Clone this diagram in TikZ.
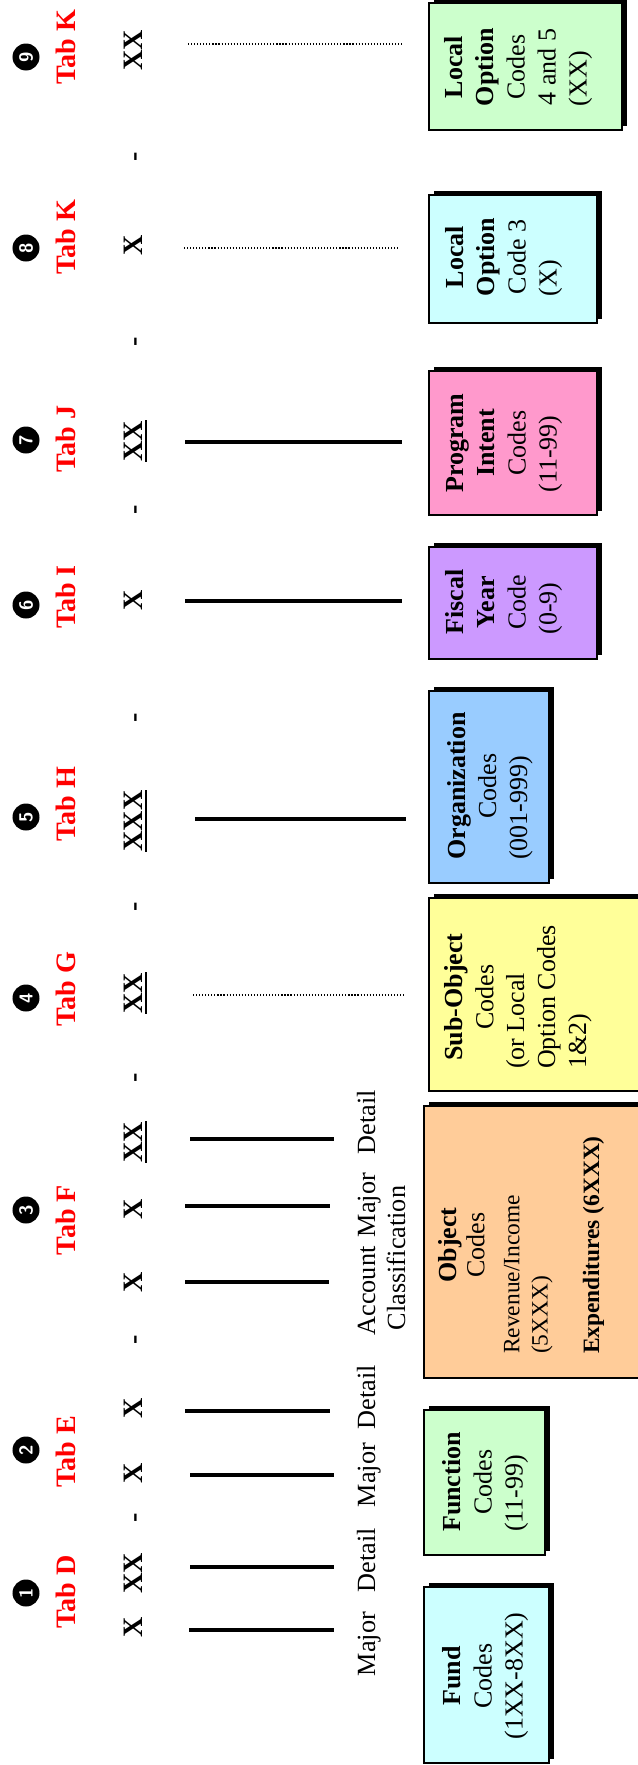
\documentclass[tikz,border=0pt]{standalone}
\usepackage{fontspec}
\setmainfont{Liberation Serif}
\usepackage{tikz}

\definecolor{fundcyan}{HTML}{CCFFFF}
\definecolor{funcgreen}{HTML}{CCFFCC}
\definecolor{objorange}{HTML}{FFCC99}
\definecolor{subyellow}{HTML}{FFFF99}
\definecolor{orgblue}{HTML}{99CCFF}
\definecolor{fiscpurple}{HTML}{CC99FF}
\definecolor{progpink}{HTML}{FF99CC}
\definecolor{tabred}{HTML}{FF0000}

\newcommand{\leftrow}[1]{\multicolumn{1}{@{}l@{}}{#1}}

\tikzset{
  tabnum/.style={rotate=90, circle, fill=black, text=white, inner sep=0pt,
    minimum size=4.05mm, font=\fontsize{8}{9}\selectfont\sffamily\bfseries},
  tablabel/.style={rotate=90, anchor=base, inner sep=0pt, text=tabred,
    font=\fontsize{12}{14}\selectfont\bfseries},
  codechar/.style={rotate=90, anchor=base, inner sep=1.5pt,
    font=\fontsize{12}{14}\selectfont\bfseries},
  ulrule/.style={line width=1.1pt, shorten <=1.5pt, shorten >=1.5pt},
  fieldlabel/.style={rotate=90, anchor=base, inner sep=0pt,
    font=\fontsize{11.2}{13}\selectfont},
  boxtext/.style={rotate=90, inner sep=0pt, font=\fontsize{11.1}{13.2}\selectfont},
  codeline/.style={line width=1.5pt},
  optline/.style={line width=0.5pt, dash pattern=on 0.5pt off 0.8pt},
  codebox/.style={draw=black, line width=0.7pt,
    preaction={fill=black, transform canvas={xshift=0.75mm, yshift=0.6mm}}},
}

\begin{document}
\begin{tikzpicture}[x=0.15mm, y=0.15mm]
  \useasboundingbox (0,0) rectangle (638,-1765);
  \clip (0,0) rectangle (638,-1765);

  % tab numbers and labels
  \foreach \y/\c/\t [count=\i] in {1593/1592/D, 1450/1452/E, 1210/1220/F,
      998/989/G, 817/804/H, 605/597/I, 440/439/J, 248/237/K, 57/47/K} {
    \node[tabnum] (num\i) at (26,-\y) {\i};
    \node[tablabel] (tab\i) at (75,-\c) {Tab \t};
  }

  % account code characters
  \foreach \y/\t [count=\i] in {1627/X, 1573/XX, 1518/-, 1473/X, 1408/X,
      1340/-, 1282/X, 1209/X, 1142/XX, 1078/-, 993/XX, 907/-, 821/XXX,
      718/-, 600/X, 510/-, 441/XX, 342/-, 245/X, 157/-, 50/XX}
    \node[codechar] (code\i) at (142,-\y) {\t};
  \foreach \n in {9,11,13,17}
    \draw[ulrule] (code\n.south west) -- (code\n.south east);

  % lines under the characters
  \foreach \y/\a/\b in {1630/189/334, 1567/190/334, 1475/190/334, 1411/185/330,
      1282/185/329, 1206/185/330, 1139/190/334, 819/195/406, 601/185/402, 442/185/402}
    \draw[codeline] (\a,-\y) -- (\b,-\y);
  \foreach \y/\a/\b in {995/193/404, 248/184/399, 44/188/403}
    \draw[optline] (\a,-\y) -- (\b,-\y);

  % field names
  \node[fieldlabel] (lab1) at (375,-1644) {Major};
  \node[fieldlabel] (lab2) at (375,-1560) {Detail};
  \node[fieldlabel] (lab3) at (375,-1475) {Major};
  \node[fieldlabel] (lab4) at (375,-1397) {Detail};
  \node[fieldlabel] (lab5) at (375,-1291) {Account};
  \node[fieldlabel] (lab6) at (405,-1258) {Classification};
  \node[fieldlabel] (lab7) at (375,-1205) {Major};
  \node[fieldlabel] (lab8) at (375,-1122) {Detail};

  % code boxes
  \draw[codebox, fill=fundcyan] (424,-1587) rectangle (549,-1763);
  \node[boxtext] (fund) at (485.5,-1676)
    {\begin{tabular}{@{}c@{}}\textbf{Fund}\\Codes\\\leftrow{(1XX-8XX)}\end{tabular}};

  \draw[codebox, fill=funcgreen] (424,-1410) rectangle (545,-1555);
  \node[boxtext] (function) at (485.5,-1482)
    {\begin{tabular}{@{}c@{}}\textbf{Function}\\Codes\\\leftrow{(11-99)}\end{tabular}};

  \draw[codebox, fill=objorange] (424,-1106) rectangle (700,-1378);
  \node[boxtext, font=\fontsize{11.1}{12}\selectfont] (object) at (522,-1245)
    {\begin{tabular}{@{}c@{}}\textbf{Object}\\Codes\\[3pt]
     \leftrow{\fontsize{10}{12}\selectfont Revenue/Income}\\
     \leftrow{\fontsize{10}{12}\selectfont (5XXX)}\\[10pt]
     \leftrow{\fontsize{10}{12}\selectfont\bfseries Expenditures (6XXX)}\end{tabular}};

  \draw[codebox, fill=subyellow] (429,-898) rectangle (700,-1091);
  \node[boxtext] (subobject) at (518,-997)
    {\begin{tabular}{@{}c@{}}\textbf{Sub-Object}\\Codes\\\leftrow{(or Local}\\
     \leftrow{Option Codes}\\\leftrow{1\&2)}\end{tabular}};

  \draw[codebox, fill=orgblue] (429,-691) rectangle (549,-883);
  \node[boxtext] (organization) at (490,-786)
    {\begin{tabular}{@{}c@{}}\textbf{Organization}\\Codes\\\leftrow{(001-999)}\end{tabular}};

  \draw[codebox, fill=fiscpurple] (429,-547) rectangle (597,-659);
  \node[boxtext] (fiscal) at (504,-602)
    {\begin{tabular}{@{}c@{}}\textbf{Fiscal}\\\textbf{Year}\\Code\\\leftrow{(0-9)}\end{tabular}};

  \draw[codebox, fill=progpink] (429,-371) rectangle (597,-515);
  \node[boxtext] (program) at (504,-443)
    {\begin{tabular}{@{}c@{}}\textbf{Program}\\\textbf{Intent}\\Codes\\\leftrow{(11-99)}\end{tabular}};

  \draw[codebox, fill=fundcyan] (429,-195) rectangle (597,-323);
  \node[boxtext] (localthree) at (504,-257)
    {\begin{tabular}{@{}c@{}}\textbf{Local}\\\textbf{Option}\\Code 3\\\leftrow{(X)}\end{tabular}};

  \draw[codebox, fill=funcgreen] (429,-3) rectangle (622,-130);
  \node[boxtext] (localfour) at (518.5,-67)
    {\begin{tabular}{@{}c@{}}\textbf{Local}\\\textbf{Option}\\Codes\\4 and 5\\\leftrow{(XX)}\end{tabular}};
\end{tikzpicture}
\end{document}
